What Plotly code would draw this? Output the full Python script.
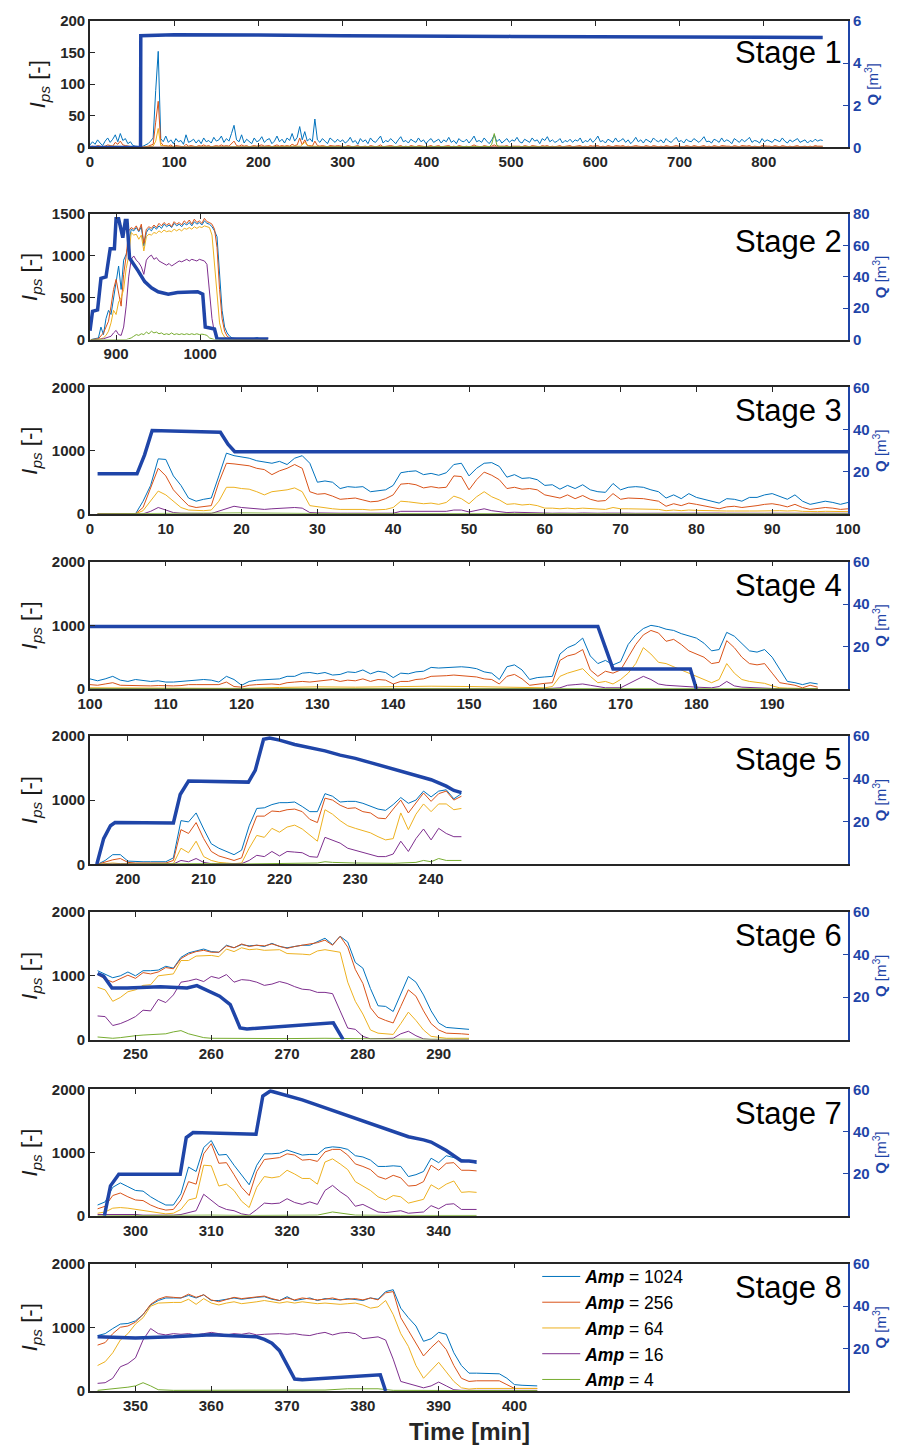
import plotly.graph_objects as go

FONT = "Arial, 'Liberation Sans', Helvetica, sans-serif"
AMP_LABELS = ["1024", "256", "64", "16", "4"]
AMP_COLORS = ["#0072BD", "#D95319", "#EDB120", "#7E2F8E", "#77AC30"]
Q_COLOR = "#1F45A8"


def times(start, n, step=1):
    return [start + step * i for i in range(n)]


# ---------------- Stage 1 (3-min sampling) ----------------
s1_1024 = [4, 9, 5, 12, 7, 3, 10, 15, 8, 13, 20, 9, 22, 11, 14, 6, 9, 3, 2, 1,
           1, 2, 4, 6, 10, 15, 90, 152, 14, 9,
           18, 8, 12, 6, 14, 9, 11, 5, 20, 8, 10, 13, 7, 12, 6, 15, 9, 11, 7, 16,
           10, 12, 18, 8, 14, 10, 22, 35, 12, 9, 20, 7, 13, 10, 6, 15, 9, 11, 17, 8,
           12, 14, 6, 10, 18, 9, 13, 7, 15, 11, 22, 10, 16, 33, 12, 25, 10, 14, 9, 45,
           12, 8, 14, 10, 6, 15, 11, 8, 13, 9,
           12, 7, 10, 16, 8, 11, 5, 14, 9, 12, 6, 15, 10, 8, 13, 18, 7, 11, 9, 14,
           10, 6, 12, 17, 9, 11, 7, 13, 10, 8, 15, 9, 12, 6, 11, 14, 8, 10, 13, 7,
           12, 9, 16, 8, 11, 6, 14, 10, 9, 13, 7, 12, 18, 9, 11, 8, 15, 10, 6, 12,
           20, 9, 13, 7, 11, 14, 8, 12, 10, 16, 9, 7, 13, 11, 8, 15, 10, 12, 6, 14,
           11, 17, 9, 12, 8, 10, 14, 7, 11, 9, 13, 8, 12, 10, 15, 7, 11, 9, 14, 8,
           12, 18, 9, 11, 7, 13, 10, 8, 15, 9, 11, 14, 8, 12, 6, 10, 16, 9, 12, 7,
           13, 10, 8, 15, 11, 9, 12, 7, 14, 10, 8, 12, 16, 9, 11, 7, 13, 10, 9, 14,
           11, 8, 12, 17, 9, 10, 7, 13, 11, 8, 15, 9, 12, 10, 6, 14, 11, 8, 13, 9,
           12, 16, 8, 11, 10, 7, 14, 9, 12, 10, 8, 13, 11, 9, 15, 10, 7, 12, 9, 11,
           14, 8, 10, 12, 7, 11, 9, 13, 10, 12, 11]
s1_256 = [1, 2, 1, 3, 2, 1, 2, 4, 3, 2, 8, 5, 10, 4, 3, 2, 1, 1, 0, 0,
          0, 0, 1, 2, 3, 5, 40, 73, 8, 3,
          3, 2, 4, 1, 3, 2, 2, 1, 5, 2, 3, 2, 1, 3, 2, 4, 2, 3, 1, 2,
          3, 2, 4, 2, 3, 2, 6, 10, 3, 2, 4, 2, 3, 1, 2, 3, 2, 3, 4, 2,
          3, 3, 1, 2, 4, 2, 3, 2, 3, 2, 5, 3, 4, 15, 4, 12, 3, 3, 2, 10,
          3, 2, 3, 2, 1, 3, 2, 2, 3, 2,
          2, 1, 3, 2, 1, 2, 3, 1, 2, 2, 1, 3, 2, 1, 2, 4, 1, 2, 2, 3,
          2, 1, 2, 3, 1, 2, 1, 3, 2, 1, 3, 2, 2, 1, 2, 3, 1, 2, 3, 1,
          2, 2, 3, 1, 2, 1, 3, 2, 1, 2, 1, 2, 4, 2, 2, 1, 3, 2, 1, 2,
          4, 2, 2, 1, 2, 3, 1, 2, 2, 3, 2, 1, 3, 2, 1, 3, 2, 2, 1, 3,
          2, 3, 1, 2, 1, 2, 3, 1, 2, 2, 3, 1, 2, 2, 3, 1, 2, 1, 3, 2,
          2, 3, 1, 2, 1, 3, 2, 1, 3, 2, 2, 3, 1, 2, 1, 2, 3, 2, 2, 1,
          3, 2, 1, 3, 2, 1, 2, 1, 3, 2, 1, 2, 3, 2, 2, 1, 3, 2, 1, 3,
          2, 1, 2, 3, 1, 2, 1, 3, 2, 1, 3, 2, 2, 2, 1, 3, 2, 1, 3, 2,
          2, 3, 1, 2, 2, 1, 3, 2, 2, 2, 1, 3, 2, 1, 3, 2, 1, 2, 1, 2,
          3, 1, 2, 2, 1, 2, 1, 3, 2, 2, 2]
s1_64_t = [0, 30, 60, 75, 78, 81, 84, 100, 200, 250, 255, 260, 300, 400, 500, 600, 700, 800, 870]
s1_64 = [1, 2, 0, 2, 10, 30, 3, 1, 1, 2, 8, 2, 1, 1, 1, 1, 1, 1, 1]
s1_16_t = [0, 870]
s1_16 = [0.5, 0.5]
s1_4_t = [0, 200, 400, 474, 477, 480, 483, 486, 600, 870]
s1_4 = [0, 0, 0, 1, 5, 22, 4, 1, 0, 0]
q1_t = [0, 60, 60.3, 100, 200, 300, 500, 700, 870]
q1 = [0, 0, 5.3, 5.35, 5.34, 5.3, 5.27, 5.25, 5.22]

# ---------------- Stage 2 (3-min sampling from 870) ----------------
s2_1024 = [0, 5, 10, 20, 150, 60, 250, 350, 300, 500, 650, 880, 600, 950, 1020, 1150, 1320,
           1300, 1340, 1290, 1350, 1120, 1280, 1330, 1300, 1350, 1320, 1360, 1330, 1380,
           1350, 1370, 1340, 1390, 1360, 1380, 1350, 1390, 1370, 1400, 1360, 1410, 1380,
           1400, 1370, 1420, 1390, 1380, 1350, 1300, 1230, 800, 350, 150, 80, 40, 20, 15,
           10, 5, 8, 5, 3, 5, 8, 20, 25, 5, 3, 2, 0]
s2_256 = [0, 0, 5, 10, 40, 80, 150, 220, 400, 600, 720, 550, 400, 780, 1000, 1300, 1340,
          1320, 1360, 1300, 1380, 1150, 1320, 1350, 1330, 1370, 1340, 1390, 1360, 1400,
          1370, 1390, 1350, 1410, 1380, 1400, 1370, 1420, 1390, 1430, 1380, 1440, 1400,
          1420, 1390, 1450, 1410, 1400, 1380, 1320, 1100, 600, 250, 100, 40, 20, 10, 5,
          0, 0, 0, 0, 0, 0, 0, 0, 0, 0, 0, 0, 0]
s2_64 = [0, 0, 0, 5, 10, 20, 50, 100, 200, 350, 300, 450, 500, 600, 850, 1000, 1280,
         1250, 1260, 1200, 1250, 1060, 1230, 1260, 1250, 1280, 1270, 1300, 1280, 1310,
         1290, 1300, 1290, 1320, 1300, 1320, 1300, 1330, 1320, 1340, 1320, 1350, 1330,
         1350, 1340, 1360, 1350, 1340, 1250, 900, 500, 200, 80, 30, 10,
         0, 0, 0, 0, 0, 0, 0, 0, 0, 0, 0, 0, 0, 0, 0, 0]
s2_16 = [0, 0, 0, 0, 5, 10, 20, 30, 40, 80, 110, 60, 50, 150, 400, 750, 960, 1000,
         950, 920, 870, 780, 950, 990, 1010, 960, 980, 940, 920, 900, 890, 910, 880,
         900, 920, 940, 930, 950, 960, 940, 960, 950, 940, 960, 950, 940, 900, 600,
         250, 80, 20, 5, 0, 0, 0, 0, 0, 0, 0, 0, 0, 0, 0, 0, 0, 0, 0, 0, 0, 0, 0]
s2_4 = [0, 0, 0, 0, 0, 0, 0, 0, 0, 0, 0, 0, 0, 0, 0, 10, 20, 40, 60, 50, 70, 60, 90,
        70, 100, 80, 90, 70, 80, 60, 70, 60, 80, 60, 70, 60, 70, 60, 70, 60, 70, 60,
        70, 60, 65, 60, 50, 20, 5, 0, 0, 0, 0, 0, 0, 0, 0, 0, 0, 0, 0, 0, 0, 0, 0, 0,
        0, 0, 0, 0, 0]
q2_t = [869, 872, 878, 882, 888, 893, 898, 900, 903, 906, 908, 911, 913, 916, 920, 926,
        934, 942, 950, 962, 973, 985, 997, 1003, 1006, 1017, 1020, 1041, 1081]
q2 = [5.7, 18, 19, 39, 40, 58, 58, 77, 77, 71, 65, 76, 76, 52, 49, 44, 37, 33, 30.5, 29,
      30, 30.5, 30.5, 29, 8, 6.7, 0.4, 0.4, 0.4]

# ---------------- Stage 3 (1-min from t=1) ----------------
s3_1024 = [0, 0, 0, 0, 0, 0, 200, 450, 870, 860, 600, 450, 250, 200, 230, 250, 600, 960,
           920, 900, 880, 840, 820, 800, 830, 780, 880, 920, 800, 500, 520, 500, 400, 430,
           420, 430, 350, 360, 380, 450, 650, 670, 680, 620, 640, 610, 650, 780, 800, 600,
           720, 800, 810, 750, 580, 620, 560, 570, 540, 450, 460, 390, 450, 400, 460, 380,
           350, 340, 480, 380, 420, 430, 420, 380, 350, 250, 300, 240, 320, 260, 230, 200,
           170, 240, 230, 200, 260, 260, 300, 320, 280, 230, 300, 200, 150, 170, 200, 180,
           150, 180]
s3_256 = [0, 0, 0, 0, 0, 0, 100, 400, 720, 600, 380, 250, 130, 100, 120, 130, 500, 800,
          790, 780, 760, 720, 700, 620, 680, 720, 780, 720, 350, 310, 320, 280, 230, 240,
          250, 220, 190, 200, 240, 300, 470, 480, 460, 410, 430, 410, 420, 600, 590, 380,
          540, 660, 610, 540, 400, 420, 390, 400, 380, 300, 280, 250, 300, 240, 290, 230,
          200, 210, 320, 230, 250, 250, 240, 220, 200, 120, 160, 130, 170, 150, 130, 110,
          80, 110, 120, 100, 110, 130, 150, 160, 140, 110, 150, 100, 70, 80, 100, 90, 70, 80]
s3_64 = [0, 0, 0, 0, 0, 0, 50, 200, 360, 300, 200, 100, 60, 50, 50, 60, 200, 420, 420,
         400, 390, 350, 300, 350, 360, 380, 410, 350, 130, 110, 100, 80, 70, 70, 80, 70,
         60, 60, 70, 100, 200, 190, 180, 160, 170, 150, 180, 280, 240, 160, 270, 350, 270,
         220, 150, 160, 140, 150, 130, 90, 90, 80, 90, 80, 90, 80, 70, 70, 100, 80, 80,
         80, 80, 70, 70, 50, 60, 50, 60, 55, 50, 45, 40, 45, 45, 40, 45, 45, 50, 55, 50,
         45, 50, 40, 35, 35, 40, 35, 30, 35]
s3_16 = [0, 0, 0, 0, 0, 0, 0, 40, 100, 60, 20, 10, 5, 5, 5, 5, 40, 80, 120, 100, 90, 80,
         70, 80, 90, 90, 100, 90, 20, 15, 10, 10, 10, 10, 10, 10, 10, 10, 10, 10, 40, 40,
         40, 30, 40, 30, 40, 60, 60, 30, 50, 80, 50, 40, 20, 25, 20, 25, 20, 15, 10, 12,
         8, 10, 14, 9, 10, 12, 8, 10, 11, 9, 10, 12, 8, 10, 9, 11, 10, 8, 10, 9, 12, 10,
         8, 9, 11, 10, 9, 10, 8, 9, 10, 8, 9, 10, 8, 9, 8, 9]
s3_4_t = [1, 10, 20, 30, 40, 50, 60, 70, 80, 90, 100]
s3_4 = [0, 10, 15, 5, 8, 5, 5, 3, 3, 2, 2]
q3_t = [1, 6.2, 7.2, 8.2, 17.2, 18.2, 19.1, 100]
q3 = [19, 19, 28, 39.5, 38.7, 33, 29.5, 29.5]

# ---------------- Stage 4 (1-min from t=100) ----------------
s4_1024 = [160, 130, 160, 200, 140, 120, 150, 140, 120, 130, 110, 110, 120, 140, 150, 150,
           140, 110, 200, 150, 60, 120, 140, 150, 150, 160, 200, 200, 250, 260, 240, 260,
           220, 230, 270, 260, 300, 240, 280, 260, 180, 250, 240, 270, 280, 340, 330, 340,
           350, 350, 340, 320, 270, 250, 150, 350, 380, 300, 150, 180, 190, 200, 550, 650,
           700, 800, 520, 400, 450, 380, 430, 700, 850, 950, 1000, 980, 940, 920, 870, 840,
           800, 720, 600, 620, 890, 830, 720, 600, 580, 620, 500, 300, 120, 100, 70, 100, 80]
s4_256 = [70, 60, 80, 100, 60, 55, 60, 55, 50, 55, 50, 50, 55, 70, 70, 70, 65, 70, 110,
          40, 30, 60, 70, 75, 80, 70, 100, 110, 120, 110, 120, 130, 150, 120, 140, 130,
          160, 120, 150, 140, 80, 120, 120, 150, 160, 200, 200, 210, 220, 210, 200, 190,
          160, 150, 80, 200, 230, 160, 60, 80, 90, 100, 450, 520, 550, 620, 300, 200, 280,
          250, 300, 500, 700, 850, 920, 880, 750, 780, 700, 600, 550, 500, 400, 420, 760,
          650, 500, 400, 380, 400, 250, 100, 80, 60, 20, 60, 30]
s4_64_t = [100, 105, 110, 115, 120, 125, 130, 135, 140, 145, 150, 155, 160] + \
    [161, 162, 163, 164, 165, 166, 167, 168, 169, 170, 171, 172, 173, 174, 175, 176, 177,
     178, 179, 180, 181, 182, 183, 184, 185, 186, 187, 188, 189, 190, 191, 192, 193, 194,
     195, 196]
s4_64 = [20, 15, 20, 15, 10, 25, 35, 30, 40, 45, 40, 30, 20,
         40, 200, 250, 280, 320, 200, 100, 120, 80, 150, 250, 400, 650, 550, 420, 400,
         350, 300, 250, 200, 150, 100, 150, 400, 250, 150, 120, 100, 90, 50, 20, 15, 10,
         5, 10, 5]
s4_16_t = [100, 120, 140, 160, 162, 163, 164, 165, 166, 167, 168, 170, 171, 172, 173, 174,
           175, 176, 178, 180, 182, 183, 184, 185, 186, 188, 190, 192, 196]
s4_16 = [5, 5, 8, 5, 20, 60, 70, 80, 60, 40, 20, 20, 80, 150, 200, 150, 80, 60, 40, 30,
         20, 40, 120, 50, 30, 15, 10, 5, 5]
s4_4_t = [100, 150, 196]
s4_4 = [5, 5, 5]
q4_t = [100, 167, 169, 179.2, 180]
q4 = [29.5, 29.5, 9.5, 9.5, 0]

# ---------------- Stage 5 (1-min from t=196) ----------------
s5_1024 = [0, 60, 150, 150, 50, 40, 40, 40, 40, 40, 100, 680, 660, 800, 550, 320, 250,
           200, 150, 220, 600, 870, 880, 930, 960, 960, 970, 900, 820, 820, 1100, 1060,
           970, 980, 980, 950, 900, 860, 840, 930, 1040, 950, 1000, 1140, 1050, 1140, 1160,
           1020, 1100]
s5_256 = [0, 40, 70, 90, 30, 20, 20, 20, 20, 20, 60, 540, 480, 650, 400, 200, 130, 100,
          60, 100, 450, 750, 750, 830, 820, 850, 860, 820, 700, 650, 1030, 1000, 920, 870,
          880, 820, 800, 720, 710, 860, 1000, 800, 950, 1110, 980, 1100, 1140, 1000, 1060]
s5_64 = [0, 10, 20, 10, 10, 10, 10, 10, 10, 10, 10, 250, 180, 360, 120, 60, 30, 20, 10,
         20, 250, 450, 420, 560, 500, 580, 610, 550, 450, 360, 850, 780, 680, 600, 560,
         530, 490, 430, 380, 400, 800, 540, 780, 940, 820, 940, 940, 850, 870]
s5_16 = [0, 5, 5, 5, 5, 5, 5, 5, 5, 5, 5, 60, 40, 90, 30, 10, 10, 10, 10, 10, 60, 140,
         120, 200, 130, 200, 190, 180, 120, 110, 420, 380, 330, 250, 220, 190, 160, 120,
         120, 160, 360, 200, 400, 550, 380, 560, 480, 430, 430]
s5_4_t = [196, 200, 205, 210, 215, 220, 225, 226, 227, 230, 235, 238, 239, 240, 241, 242,
          243, 244]
s5_4 = [0, 5, 5, 10, 5, 10, 20, 40, 30, 20, 15, 30, 60, 40, 90, 60, 55, 60]
q5_t = [195.9, 196.8, 197.7, 198.3, 206, 206.9, 208, 215.9, 216.8, 217.9, 218.7, 220, 222,
        224, 226, 228, 230, 232, 234, 236, 238, 240, 241, 242, 243, 244]
q5 = [0, 12, 18, 19.5, 19.3, 32.6, 38.9, 38.4, 43.9, 58.4, 59, 58, 56, 54.5, 53, 51,
      49.5, 47.5, 45.5, 43.5, 41.5, 39.5, 38, 36.5, 34.5, 33.5]

# ---------------- Stage 6 (1-min from t=245) ----------------
s6_1024 = [1080, 1020, 970, 1000, 1060, 1000, 1080, 1080, 1090, 1150, 1120, 1290, 1360,
           1390, 1420, 1380, 1370, 1480, 1440, 1490, 1470, 1480, 1460, 1510, 1460, 1440,
           1460, 1480, 1480, 1540, 1590, 1490, 1620, 1530, 1210, 1120, 800, 530, 520, 440,
           720, 990, 900, 700, 450, 260, 190, 180, 170, 160]
s6_256 = [1020, 950, 900, 950, 1010, 960, 1050, 1030, 1060, 1130, 1110, 1270, 1340, 1380,
          1400, 1370, 1370, 1470, 1440, 1500, 1460, 1480, 1470, 1500, 1470, 1430, 1460,
          1480, 1490, 1520, 1560, 1480, 1620, 1450, 1100, 880, 500, 350, 300, 260, 520,
          780, 680, 450, 250, 150, 100, 100, 90, 80]
s6_64 = [820, 780, 600, 660, 750, 780, 850, 860, 1000, 1010, 1030, 1240, 1240, 1310, 1310,
         1320, 1300, 1420, 1380, 1440, 1410, 1420, 1400, 1410, 1410, 1350, 1350, 1340,
         1330, 1390, 1410, 1390, 1370, 900, 600, 400, 150, 100, 90, 80, 250, 430, 300,
         150, 50, 30, 20, 20, 20, 20]
s6_16 = [370, 360, 220, 250, 300, 360, 460, 450, 630, 580, 700, 900, 920, 950, 910, 990,
         960, 1020, 900, 940, 930, 900, 850, 870, 910, 880, 830, 790, 780, 740, 740, 720,
         450, 180, 160, 50, 10, 10, 10, 20, 90, 130, 60, 10, 0, 0, 0, 0, 0, 0]
s6_4_t = [245, 246, 247, 248, 249, 250, 251, 252, 253, 254, 255, 256, 257, 258, 259, 260,
          265, 270, 275, 280, 285, 290, 294]
s6_4 = [40, 30, 20, 30, 50, 60, 70, 80, 80, 90, 120, 140, 90, 60, 30, 20, 15, 15, 20, 10,
        5, 5, 5]
q6_t = [245, 245.8, 246.9, 248.9, 253.3, 256.8, 258.1, 259.8, 261.1, 262.5, 263.8, 264.7,
        270, 276.1, 277.4]
q6 = [31.1, 29.8, 24.3, 24.3, 24.8, 24.3, 25.4, 22.8, 20.4, 16.5, 5.5, 5.0, 6.3, 7.9, 0]

# ---------------- Stage 7 (1-min from t=295) ----------------
s7_1024 = [170, 220, 450, 520, 460, 400, 390, 300, 230, 170, 170, 350, 770, 700, 1080,
           1190, 960, 970, 800, 650, 490, 800, 980, 980, 990, 1040, 1000, 960, 970, 970,
           1070, 1090, 1080, 1050, 950, 930, 880, 780, 780, 790, 780, 620, 650, 700, 910,
           840, 950, 920, 890, 860, 830]
s7_256 = [110, 150, 320, 360, 300, 250, 240, 170, 120, 90, 100, 250, 540, 500, 980, 1140,
          830, 840, 650, 450, 320, 700, 890, 900, 920, 980, 960, 880, 890, 860, 1010, 1050,
          1050, 960, 820, 780, 730, 620, 580, 640, 600, 470, 480, 540, 800, 720, 830, 840,
          720, 720, 710]
s7_64 = [40, 60, 120, 130, 120, 100, 90, 60, 40, 30, 40, 100, 250, 280, 800, 790, 470,
         500, 400, 230, 130, 450, 620, 600, 620, 720, 660, 590, 590, 500, 850, 900, 820,
         730, 540, 470, 400, 300, 250, 320, 300, 200, 230, 260, 490, 420, 500, 550, 370,
         380, 370]
s7_16 = [20, 20, 30, 30, 20, 20, 10, 10, 5, 5, 10, 20, 50, 80, 340, 250, 150, 100, 80,
         30, 10, 100, 200, 190, 200, 270, 210, 180, 220, 180, 400, 480, 380, 300, 150, 180,
         120, 60, 50, 70, 80, 40, 50, 60, 160, 110, 180, 190, 100, 100, 100]
s7_4_t = [295, 300, 305, 308, 309, 310, 315, 320, 324, 326, 327, 329, 335, 340, 345]
s7_4 = [0, 5, 5, 10, 20, 10, 5, 5, 10, 60, 40, 10, 5, 5, 5]
q7_t = [295.9, 296.7, 297.8, 305.9, 306.7, 307.6, 315.9, 316.8, 317.8, 320, 322, 324, 326,
        328, 330, 332, 334, 336, 338, 339, 340, 341, 342, 343, 344, 345]
q7 = [0, 14.2, 19.7, 19.7, 37.1, 39.5, 38.7, 56.8, 59.2, 57, 55, 52.5, 50, 47.5, 45,
      42.5, 40, 37.5, 36, 35, 33, 31, 28.5, 26, 26, 25.5]

# ---------------- Stage 8 (1-min from t=345) ----------------
s8_1024 = [870, 900, 980, 1050, 1060, 1100, 1200, 1350, 1420, 1460, 1460, 1460, 1500, 1460,
           1510, 1420, 1420, 1440, 1460, 1440, 1460, 1470, 1480, 1440, 1420, 1480, 1420,
           1440, 1460, 1420, 1450, 1440, 1430, 1450, 1440, 1420, 1460, 1440, 1560, 1590,
           1300, 1150, 1020, 780, 820, 920, 890, 600, 400, 280, 280, 280, 280, 270, 200,
           100, 90, 80, 80]
s8_256 = [720, 760, 900, 1000, 1020, 1080, 1200, 1360, 1440, 1480, 1470, 1460, 1520, 1470,
          1510, 1430, 1400, 1430, 1470, 1450, 1460, 1470, 1490, 1450, 1420, 1460, 1430,
          1460, 1440, 1430, 1440, 1460, 1430, 1440, 1450, 1430, 1460, 1430, 1540, 1560,
          1150, 950, 750, 550, 680, 790, 650, 400, 200, 150, 160, 160, 160, 160, 100, 40,
          40, 40, 40]
s8_64 = [400, 460, 600, 800, 900, 1050, 1150, 1330, 1380, 1390, 1390, 1390, 1440, 1360,
         1450, 1380, 1350, 1380, 1400, 1370, 1380, 1400, 1420, 1400, 1380, 1400, 1380, 1400,
         1380, 1370, 1380, 1370, 1360, 1370, 1380, 1350, 1300, 1320, 1420, 1200, 900, 700,
         400, 200, 330, 450, 300, 150, 50, 30, 40, 40, 40, 40, 40, 40, 40, 40, 40]
s8_16 = [120, 130, 200, 380, 430, 520, 800, 980, 900, 880, 900, 890, 900, 880, 900, 920,
         900, 880, 900, 890, 910, 880, 890, 900, 900, 890, 900, 880, 870, 900, 920, 880,
         910, 920, 900, 820, 840, 850, 800, 500, 150, 120, 80, 50, 80, 140, 80, 20, 10, 10,
         10, 10, 10, 10, 10, 10, 10, 10, 10]
s8_4_t = [345, 346, 347, 348, 349, 350, 351, 352, 353, 355, 360, 365, 370, 375, 378, 380,
          382, 384, 390, 395, 403]
s8_4 = [10, 20, 40, 50, 60, 80, 130, 80, 20, 10, 10, 15, 10, 15, 35, 40, 35, 10, 5, 5, 5]
q8_t = [345, 350, 355, 360, 363, 365, 366, 367, 368, 369, 370, 371, 372, 382, 382.3, 383]
q8 = [25.5, 25, 25.5, 26.5, 26, 25.8, 25.5, 24.3, 22.5, 19, 12, 5.6, 5.3, 7.6, 7.6, 0]

# series per stage: list of (x, y) for the 5 amplitudes, plus Q
stages = [
    dict(amp=[(times(0, len(s1_1024), 3), s1_1024), (times(0, len(s1_256), 3), s1_256),
              (s1_64_t, s1_64), (s1_16_t, s1_16), (s1_4_t, s1_4)], q=(q1_t, q1)),
    dict(amp=[(times(870, len(s2_1024), 3), s2_1024), (times(870, len(s2_256), 3), s2_256),
              (times(870, len(s2_64), 3), s2_64), (times(870, len(s2_16), 3), s2_16),
              (times(870, len(s2_4), 3), s2_4)], q=(q2_t, q2)),
    dict(amp=[(times(1, len(s3_1024)), s3_1024), (times(1, len(s3_256)), s3_256),
              (times(1, len(s3_64)), s3_64), (times(1, len(s3_16)), s3_16),
              (s3_4_t, s3_4)], q=(q3_t, q3)),
    dict(amp=[(times(100, len(s4_1024)), s4_1024), (times(100, len(s4_256)), s4_256),
              (s4_64_t, s4_64), (s4_16_t, s4_16), (s4_4_t, s4_4)], q=(q4_t, q4)),
    dict(amp=[(times(196, len(s5_1024)), s5_1024), (times(196, len(s5_256)), s5_256),
              (times(196, len(s5_64)), s5_64), (times(196, len(s5_16)), s5_16),
              (s5_4_t, s5_4)], q=(q5_t, q5)),
    dict(amp=[(times(245, len(s6_1024)), s6_1024), (times(245, len(s6_256)), s6_256),
              (times(245, len(s6_64)), s6_64), (times(245, len(s6_16)), s6_16),
              (s6_4_t, s6_4)], q=(q6_t, q6)),
    dict(amp=[(times(295, len(s7_1024)), s7_1024), (times(295, len(s7_256)), s7_256),
              (times(295, len(s7_64)), s7_64), (times(295, len(s7_16)), s7_16),
              (s7_4_t, s7_4)], q=(q7_t, q7)),
    dict(amp=[(times(345, len(s8_1024)), s8_1024), (times(345, len(s8_256)), s8_256),
              (times(345, len(s8_64)), s8_64), (times(345, len(s8_16)), s8_16),
              (s8_4_t, s8_4)], q=(q8_t, q8)),
]

x_ranges = [[0, 900], [869, 1770], [0, 100], [100, 200], [195, 295], [244, 344], [294, 394], [344, 444]]
x_ticks = [list(range(0, 801, 100)), [900, 1000], list(range(0, 101, 10)), list(range(100, 191, 10)),
           list(range(200, 241, 10)), list(range(250, 291, 10)), list(range(300, 341, 10)),
           list(range(350, 401, 10))]
i_ranges = [[0, 200], [0, 1500]] + [[0, 2000]] * 6
i_ticks = [[0, 50, 100, 150, 200], [0, 500, 1000, 1500]] + [[0, 1000, 2000]] * 6
q_ranges = [[0, 6], [0, 80]] + [[0, 60]] * 6
q_ticks = [[0, 2, 4, 6], [0, 20, 40, 60, 80]] + [[20, 40, 60]] * 6
panel_px = [(15, 142), (209, 335), (383, 510), (558, 686), (733, 862), (910, 1038),
            (1088, 1215), (1263, 1391)]
stage_label_off = [32, 27, 23, 24, 24, 24, 24, 24]

W, H = 909, 1450
M_L, M_R, M_T, M_B = 90, 61, 15, 59
PH = H - M_T - M_B

fig = go.Figure()
layout = dict(
    width=W, height=H, margin=dict(l=M_L, r=M_R, t=M_T, b=M_B),
    paper_bgcolor="white", plot_bgcolor="white",
    font=dict(family=FONT, color="black"),
    showlegend=True,
    legend=dict(x=0.59, y=(1391 - 1258) / PH, xanchor="left", yanchor="top",
                bgcolor="rgba(0,0,0,0)", font=dict(size=17.5, family=FONT),
                tracegroupgap=0, itemwidth=38),
)
annotations = []

for i, st in enumerate(stages):
    n = i + 1
    xa = "x" if n == 1 else f"x{n}"
    ya_l = "y" if n == 1 else f"y{2 * n - 1}"
    ya_r = f"y{2 * n}"
    top, bot = panel_px[i]
    d0 = (M_T + PH - bot) / PH
    d1 = (M_T + PH - top) / PH
    for k, (xs, ys) in enumerate(st["amp"]):
        fig.add_trace(go.Scatter(
            x=xs, y=ys, mode="lines", xaxis=xa, yaxis=ya_l,
            line=dict(color=AMP_COLORS[k], width=1),
            name=f"<b><i>Amp</i></b> = {AMP_LABELS[k]}",
            legendgroup=AMP_LABELS[k], showlegend=(n == 8)))
    qx, qy = st["q"]
    fig.add_trace(go.Scatter(x=qx, y=qy, mode="lines", xaxis=xa, yaxis=ya_r,
                             line=dict(color=Q_COLOR, width=3.5), showlegend=False))

    xkey = "xaxis" if n == 1 else f"xaxis{n}"
    ylkey = "yaxis" if n == 1 else f"yaxis{2 * n - 1}"
    yrkey = f"yaxis{2 * n}"
    layout[xkey] = dict(
        domain=[0, 1], anchor=ya_l, range=x_ranges[i], tickvals=x_ticks[i],
        ticks="inside", ticklen=5, tickwidth=1.2, tickcolor="#262626",
        showline=True, linecolor="#262626", linewidth=1.6, mirror="ticks",
        showgrid=False, zeroline=False,
        tickfont=dict(family=FONT, size=15, color="#262626", weight="bold"))
    layout[ylkey] = dict(
        domain=[d0, d1], anchor=xa, range=i_ranges[i], tickvals=i_ticks[i],
        ticks="inside", ticklen=5, tickwidth=1.2, tickcolor="#262626",
        showline=True, linecolor="#262626", linewidth=1.6,
        showgrid=False, zeroline=False,
        tickfont=dict(family=FONT, size=15, color="#262626", weight="bold"),
        title=dict(text="<i>I</i><sub><i>ps</i></sub> [-]",
                   font=dict(family=FONT, size=22, color="#1a1a1a"), standoff=8))
    layout[yrkey] = dict(
        overlaying=ya_l, side="right", anchor=xa, range=q_ranges[i], tickvals=q_ticks[i],
        ticks="inside", ticklen=5, tickwidth=1.4, tickcolor=Q_COLOR,
        showline=True, linecolor=Q_COLOR, linewidth=1.8,
        showgrid=False, zeroline=False,
        tickfont=dict(family=FONT, size=15, color=Q_COLOR, weight="bold"),
        title=dict(text="<b>Q</b> [m<sup>3</sup>]",
                   font=dict(family=FONT, size=15, color=Q_COLOR), standoff=6))
    annotations.append(dict(
        text=f"Stage {n}", xref=f"{xa} domain", yref=f"{ya_l} domain",
        x=0.995, y=1 - stage_label_off[i] / (bot - top), xanchor="right", yanchor="middle",
        showarrow=False, font=dict(family=FONT, size=31, color="black")))

annotations.append(dict(
    text="<b>Time [min]</b>", xref="paper", yref="paper", x=0.5,
    y=(M_T + PH - 1432) / PH, xanchor="center", yanchor="middle", showarrow=False,
    font=dict(family=FONT, size=24, color="#262626")))
layout["annotations"] = annotations
fig.update_layout(**layout)

fig.write_html("out.html")
